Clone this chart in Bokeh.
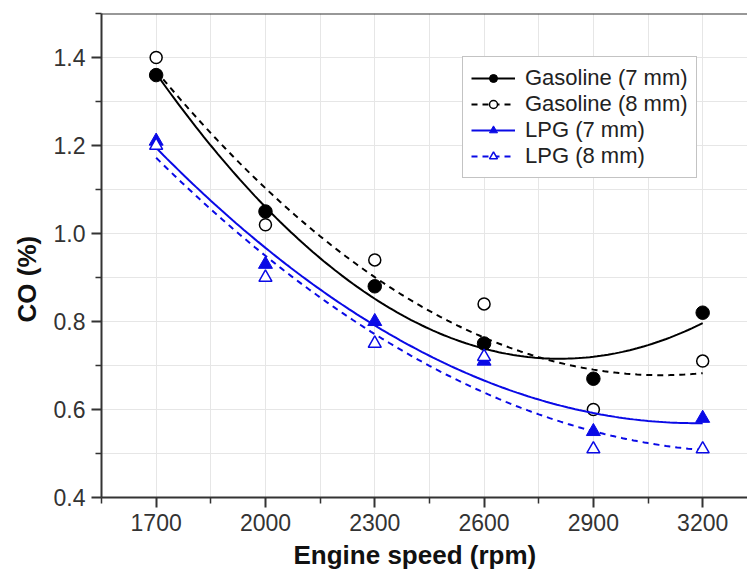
import numpy as np
from bokeh.plotting import figure
from bokeh.models import Range1d, FixedTicker, Legend, LegendItem, Span, Title
from bokeh.embed import file_html
from bokeh.resources import INLINE

# ---- data ----
speed = [1700, 2000, 2300, 2600, 2900, 3200]
gas7 = [1.36, 1.05, 0.88, 0.75, 0.67, 0.82]
gas8 = [1.40, 1.02, 0.94, 0.84, 0.60, 0.71]
lpg7 = [1.21, 0.93, 0.80, 0.71, 0.55, 0.58]
lpg8 = [1.20, 0.90, 0.75, 0.72, 0.51, 0.51]

x_ticks = [1700, 2000, 2300, 2600, 2900, 3200]
x_minor = [1550, 1850, 2150, 2450, 2750, 3050]
y_ticks = [0.4, 0.6, 0.8, 1.0, 1.2, 1.4]
y_minor = [0.5, 0.7, 0.9, 1.1, 1.3, 1.5]
y_tick_labels = ["0.4", "0.6", "0.8", "1.0", "1.2", "1.4"]

labels = ["Gasoline (7 mm)", "Gasoline (8 mm)", "LPG (7 mm)", "LPG (8 mm)"]
x_title = "Engine speed (rpm)"
y_title = "CO (%)"

FONT = "Liberation Sans"
BLUE = "#0a0ae6"

p = figure(width=747, height=574,
           x_range=Range1d(1550, 3323), y_range=Range1d(0.4, 1.5),
           output_backend="svg", toolbar_location=None,
           min_border_left=101, min_border_top=13, min_border_right=0,
           min_border_bottom=77)
p.outline_line_color = None
p.background_fill_color = "white"

p.xaxis.ticker = FixedTicker(ticks=x_ticks, minor_ticks=x_minor)
p.yaxis.ticker = FixedTicker(ticks=y_ticks, minor_ticks=y_minor)
p.yaxis.major_label_overrides = {t: l for t, l in zip(y_ticks, y_tick_labels)}

for ax in (p.xaxis, p.yaxis):
    ax.axis_line_width = 2
    ax.axis_line_color = "#333333"
    ax.major_tick_out = 10
    ax.major_tick_in = 0
    ax.minor_tick_out = 6
    ax.minor_tick_in = 0
    ax.major_tick_line_width = 2
    ax.major_tick_line_color = "#333333"
    ax.minor_tick_line_width = 1.5
    ax.minor_tick_line_color = "#333333"
    ax.major_label_text_font = FONT
    ax.major_label_text_font_size = "23px"
    ax.major_label_text_color = "#333333"
p.xaxis.major_label_standoff = 6
p.yaxis.major_label_standoff = 6

for g in (p.xgrid, p.ygrid):
    g.grid_line_color = "#e6e6e6"
    g.grid_line_width = 1
    g.minor_grid_line_color = "#e6e6e6"
    g.minor_grid_line_width = 1

p.add_layout(Span(location=1.5, dimension="width", line_color="#333333", line_width=2))

xf = np.linspace(speed[0], speed[-1], 151)

def fit(vals):
    return np.polyval(np.polyfit(speed, vals, 2), xf)

items = []
r1 = p.line(xf, fit(gas7), line_color="black", line_width=2)
s1 = p.scatter(speed, gas7, marker="circle", size=13.5, fill_color="black", line_color="black")
items.append(LegendItem(label=labels[0], renderers=[r1, s1]))

r2 = p.line(xf, fit(gas8), line_color="black", line_width=2, line_dash="6 5")
s2 = p.scatter(speed, gas8, marker="circle", size=12, fill_color="white", line_color="black", line_width=1.5)
items.append(LegendItem(label=labels[1], renderers=[r2, s2]))

r3 = p.line(xf, fit(lpg7), line_color=BLUE, line_width=2)
s3 = p.scatter(speed, lpg7, marker="triangle", size=14, fill_color=BLUE, line_color=BLUE)
items.append(LegendItem(label=labels[2], renderers=[r3, s3]))

r4 = p.line(xf, fit(lpg8), line_color=BLUE, line_width=2, line_dash="6 5")
s4 = p.scatter(speed, lpg8, marker="triangle", size=13, fill_color="white", line_color=BLUE, line_width=1.5)
items.append(LegendItem(label=labels[3], renderers=[r4, s4]))

legend = Legend(items=items, location=(361, 319))
legend.label_text_font = FONT
legend.label_text_font_size = "22px"
legend.label_text_color = "#222222"
legend.glyph_width = 44
legend.glyph_height = 20
legend.label_height = 24
legend.label_standoff = 10
legend.spacing = 0
legend.padding = 8
legend.margin = 0
legend.border_line_color = "#888888"
legend.border_line_width = 1
legend.background_fill_color = "white"
legend.background_fill_alpha = 1
p.add_layout(legend)

p.add_layout(Title(text=x_title, align="left", offset=192, standoff=8,
                   text_font=FONT, text_font_style="bold", text_font_size="26px",
                   text_line_height=1.0, text_color="#111111"), "below")
p.add_layout(Title(text=y_title, align="left", offset=175, standoff=17,
                   text_font=FONT, text_font_style="bold", text_font_size="26px",
                   text_line_height=1.0, text_color="#111111"), "left")

open("out.html", "w").write(file_html(p, INLINE))
